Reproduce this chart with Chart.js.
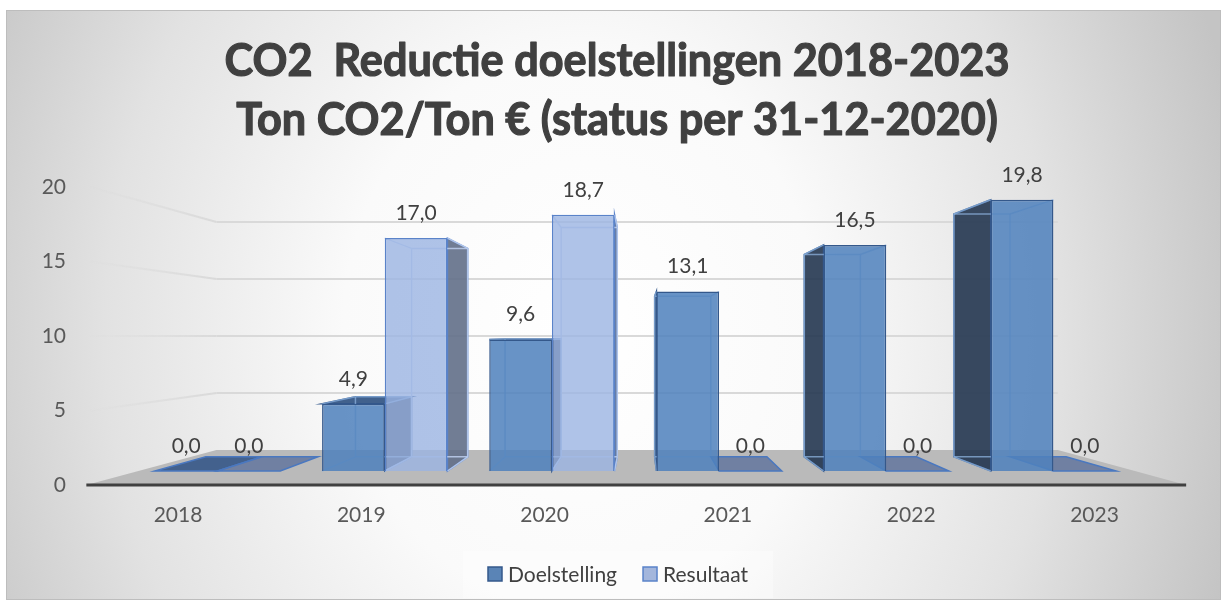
<!DOCTYPE html>
<html>
<head>
<meta charset="utf-8">
<title>CO2 Reductie doelstellingen</title>
<script src="https://cdn.jsdelivr.net/npm/chart.js@4.4.0/dist/chart.umd.min.js"></script>
<style>
  html, body { margin: 0; padding: 0; background: #ffffff; }
  #wrap { position: relative; width: 1228px; height: 605px; overflow: hidden; }
  #panel {
    position: absolute; left: 6px; top: 10px; width: 1213px; height: 588px;
    border: 1px solid #bdbdbd;
    background: radial-gradient(ellipse 680px 800px at 574px 320px,
      #ffffff 0%, #fafafa 35%, #e2e2e2 70%, #c4c4c4 100%);
  }
  canvas { position: absolute; left: 0; top: 0; }
</style>
</head>
<body>
<div id="wrap">
  <div id="panel"></div>
  <canvas id="co2Chart" width="1228" height="605"></canvas>
</div>
<script>
  // data
  const years = ['2018', '2019', '2020', '2021', '2022', '2023'];
  const doelstelling = [0.0, 4.9, 9.6, 13.1, 16.5, 19.8];
  const resultaat = [0.0, 17.0, 18.7, 0.0, 0.0, 0.0];
  const yTicks = [0, 5, 10, 15, 20];
  const titleLines = ['CO2  Reductie doelstellingen 2018-2023', 'Ton CO2/Ton \u20ac (status per 31-12-2020)'];

  // layout + fake 3d perspective
  const AREA = { left: 134, right: 1137, top: 170, bottom: 500 };
  const VP = { x: 640, y: 336 };
  const BAR_DEPTH = 0.105;
  const FLOOR_DEPTH = 0.235;
  const BAR_ZERO = 471, BAR_UNIT = 13.7;
  const AXIS_ZERO = 485, AXIS_UNIT = 14.9;
  const LABEL_FIRST = 178, LABEL_STEP = 183.3;
  const FONT = 'Lato';

  const STYLE = [
    { front: 'rgba(79,129,189,0.86)', edge: '#34588b', side: 'rgba(36,54,80,0.9)',
      top: 'rgba(55,88,135,0.95)', flat: 'rgba(60,92,138,0.95)', inner: 'rgba(140,178,222,0.75)', legend: '#5a84b6' },
    { front: 'rgba(155,180,226,0.8)', edge: '#5a83c9', side: 'rgba(98,111,136,0.9)',
      top: 'rgba(110,130,170,0.9)', flat: 'rgba(108,124,160,0.95)', inner: 'rgba(190,208,240,0.85)', legend: '#a3b6dc' }
  ];

  const fmt = v => v.toFixed(1).replace('.', ',');
  const toBack = (p, t) => ({ x: p.x + t * (VP.x - p.x), y: p.y + t * (VP.y - p.y) });

  function poly(ctx, pts, fill, stroke, lw) {
    ctx.beginPath();
    ctx.moveTo(pts[0].x, pts[0].y);
    for (let i = 1; i < pts.length; i++) ctx.lineTo(pts[i].x, pts[i].y);
    ctx.closePath();
    if (fill) { ctx.fillStyle = fill; ctx.fill(); }
    if (stroke) { ctx.strokeStyle = stroke; ctx.lineWidth = lw || 1; ctx.stroke(); }
  }

  function line(ctx, a, b, color, lw) {
    ctx.beginPath();
    ctx.moveTo(a.x, a.y);
    ctx.lineTo(b.x, b.y);
    ctx.strokeStyle = color;
    ctx.lineWidth = lw;
    ctx.stroke();
  }

  const scene3d = {
    id: 'scene3d',
    beforeDraw(chart) {
      // title: a thin stroke on top of the fill makes it as heavy as the original
      const ctx = chart.ctx;
      ctx.save();
      ctx.font = 'bold 45px ' + FONT;
      const sx = 785 / ctx.measureText(titleLines[0]).width;
      ctx.fillStyle = '#404040';
      ctx.strokeStyle = '#404040';
      ctx.lineWidth = 1.2;
      ctx.lineJoin = 'round';
      ctx.textAlign = 'center';
      ctx.textBaseline = 'alphabetic';
      ctx.translate(617, 0);
      ctx.scale(sx, 1);
      ctx.fillText(titleLines[0], 0, 76);
      ctx.strokeText(titleLines[0], 0, 76);
      ctx.fillText(titleLines[1], 0, 135);
      ctx.strokeText(titleLines[1], 0, 135);
      ctx.restore();
    },
    beforeDatasetsDraw(chart) {
      const ctx = chart.ctx;
      const xl = chart.scales.xl, yl = chart.scales.yl;
      const fx0 = xl.getPixelForValue(-0.5);
      const fx1 = xl.getPixelForValue(years.length - 0.5);
      const fy0 = yl.getPixelForValue(0);
      ctx.save();

      // floor
      const fl = { x: fx0, y: fy0 }, fr = { x: fx1, y: fy0 };
      const bl = toBack(fl, FLOOR_DEPTH), br = toBack(fr, FLOOR_DEPTH);
      poly(ctx, [fl, fr, br, bl], '#bababa');

      // back wall + side wall grid
      yTicks.forEach(v => {
        if (v === 0) return;
        const py = yl.getPixelForValue(v);
        const a = toBack({ x: fx0, y: py }, FLOOR_DEPTH);
        const b = toBack({ x: fx1, y: py }, FLOOR_DEPTH);
        line(ctx, a, b, '#d9d9d9', 2);
        const g = ctx.createLinearGradient(fx0, py, a.x, a.y);
        g.addColorStop(0, 'rgba(217,217,217,0)');
        g.addColorStop(1, 'rgba(217,217,217,1)');
        line(ctx, { x: fx0 + 4, y: py }, a, g, 2);
      });

      // category axis line
      line(ctx, { x: fx0, y: fy0 }, { x: fx1, y: fy0 }, '#404040', 3);

      // hidden parts of the boxes (sides, top, back edges)
      chart.data.datasets.forEach((ds, di) => {
        const st = STYLE[di];
        chart.getDatasetMeta(di).data.forEach((el, i) => {
          const p = el.getProps(['x', 'y', 'base', 'width'], true);
          const l = p.x - p.width / 2, r = p.x + p.width / 2;
          const FLt = { x: l, y: p.y }, FRt = { x: r, y: p.y };
          const FLb = { x: l, y: p.base }, FRb = { x: r, y: p.base };
          const BLt = toBack(FLt, BAR_DEPTH), BRt = toBack(FRt, BAR_DEPTH);
          const BLb = toBack(FLb, BAR_DEPTH), BRb = toBack(FRb, BAR_DEPTH);

          if (ds.data[i] === 0) {
            poly(ctx, [FLb, FRb, BRb, BLb], st.flat, '#4a78c0', 1.5);
            return;
          }
          if (r < VP.x) poly(ctx, [FRt, BRt, BRb, FRb], st.side, st.edge, 1.5);
          if (l > VP.x) poly(ctx, [FLt, BLt, BLb, FLb], st.side, st.edge, 1.5);
          if (p.y > VP.y) poly(ctx, [FLt, FRt, BRt, BLt], st.top, st.edge, 1.5);

          line(ctx, BLt, BRt, st.inner, 1.5);
          line(ctx, BLb, BRb, st.inner, 1.5);
          line(ctx, BLt, BLb, st.inner, 1.5);
          line(ctx, BRt, BRb, st.inner, 1.5);
          line(ctx, FLt, BLt, st.inner, 1.5);
          line(ctx, FRt, BRt, st.inner, 1.5);
          line(ctx, FLb, BLb, st.inner, 1.5);
          line(ctx, FRb, BRb, st.inner, 1.5);
        });
      });
      ctx.restore();
    },
    afterDatasetsDraw(chart) {
      const ctx = chart.ctx;
      ctx.save();
      ctx.font = '21px ' + FONT;
      ctx.fillStyle = '#404040';
      ctx.textAlign = 'center';
      ctx.textBaseline = 'middle';
      chart.data.datasets.forEach((ds, di) => {
        chart.getDatasetMeta(di).data.forEach((el, i) => {
          const p = el.getProps(['x', 'y'], true);
          ctx.fillText(fmt(ds.data[i]), p.x, p.y - 25);
        });
      });

      // legend
      ctx.fillStyle = 'rgba(255,255,255,0.35)';
      ctx.fillRect(463, 551, 310, 47);
      let x = 488;
      const cy = 574;
      ctx.textAlign = 'left';
      chart.data.datasets.forEach((ds, di) => {
        ctx.fillStyle = STYLE[di].legend;
        ctx.fillRect(x, cy - 7, 14, 14);
        ctx.strokeStyle = STYLE[di].edge;
        ctx.lineWidth = 1.5;
        ctx.strokeRect(x, cy - 7, 14, 14);
        ctx.fillStyle = '#404040';
        ctx.font = '21px ' + FONT;
        ctx.fillText(ds.label, x + 20, cy + 1);
        x += 20 + ctx.measureText(ds.label).width + 26;
      });
      ctx.restore();
    }
  };

  const tickFont = { family: FONT, size: 21 };

  new Chart(document.getElementById('co2Chart'), {
    type: 'bar',
    data: {
      labels: years,
      datasets: [
        {
          label: 'Doelstelling',
          data: doelstelling,
          backgroundColor: STYLE[0].front,
          borderColor: STYLE[0].edge,
          borderWidth: 1.5
        },
        {
          label: 'Resultaat',
          data: resultaat,
          backgroundColor: STYLE[1].front,
          borderColor: STYLE[1].edge,
          borderWidth: 1.5
        }
      ]
    },
    options: {
      responsive: false,
      animation: false,
      devicePixelRatio: 1,
      categoryPercentage: 0.75,
      barPercentage: 1.0,
      layout: {
        padding: { left: 0, right: 1228 - AREA.right, top: AREA.top, bottom: 0 }
      },
      scales: {
        x: { type: 'category', display: false, offset: true, grid: { display: false } },
        y: {
          display: false,
          min: -(AREA.bottom - BAR_ZERO) / BAR_UNIT,
          max: (BAR_ZERO - AREA.top) / BAR_UNIT
        },
        xl: {
          type: 'linear',
          position: 'bottom',
          offset: false,
          min: (AREA.left - LABEL_FIRST) / LABEL_STEP,
          max: (AREA.right - LABEL_FIRST) / LABEL_STEP,
          afterBuildTicks: s => { s.ticks = years.map((_, i) => ({ value: i })); },
          afterFit: s => { s.height = 605 - AREA.bottom; },
          grid: { display: false, drawTicks: false, offset: false },
          border: { display: false },
          ticks: {
            padding: 3,
            autoSkip: false,
            maxRotation: 0,
            color: '#595959',
            font: tickFont,
            callback: v => years[v]
          }
        },
        yl: {
          type: 'linear',
          position: 'left',
          min: -(AREA.bottom - AXIS_ZERO) / AXIS_UNIT,
          max: (AXIS_ZERO - AREA.top) / AXIS_UNIT,
          afterBuildTicks: s => { s.ticks = yTicks.map(v => ({ value: v })); },
          afterFit: s => { s.width = AREA.left; },
          grid: { display: false, drawTicks: false },
          border: { display: false },
          ticks: {
            padding: AREA.left - 66,
            color: '#595959',
            font: tickFont,
            callback: v => String(v)
          }
        }
      },
      plugins: {
        legend: { display: false },
        title: { display: false },
        tooltip: { enabled: false }
      }
    },
    plugins: [scene3d]
  });
</script>
</body>
</html>
